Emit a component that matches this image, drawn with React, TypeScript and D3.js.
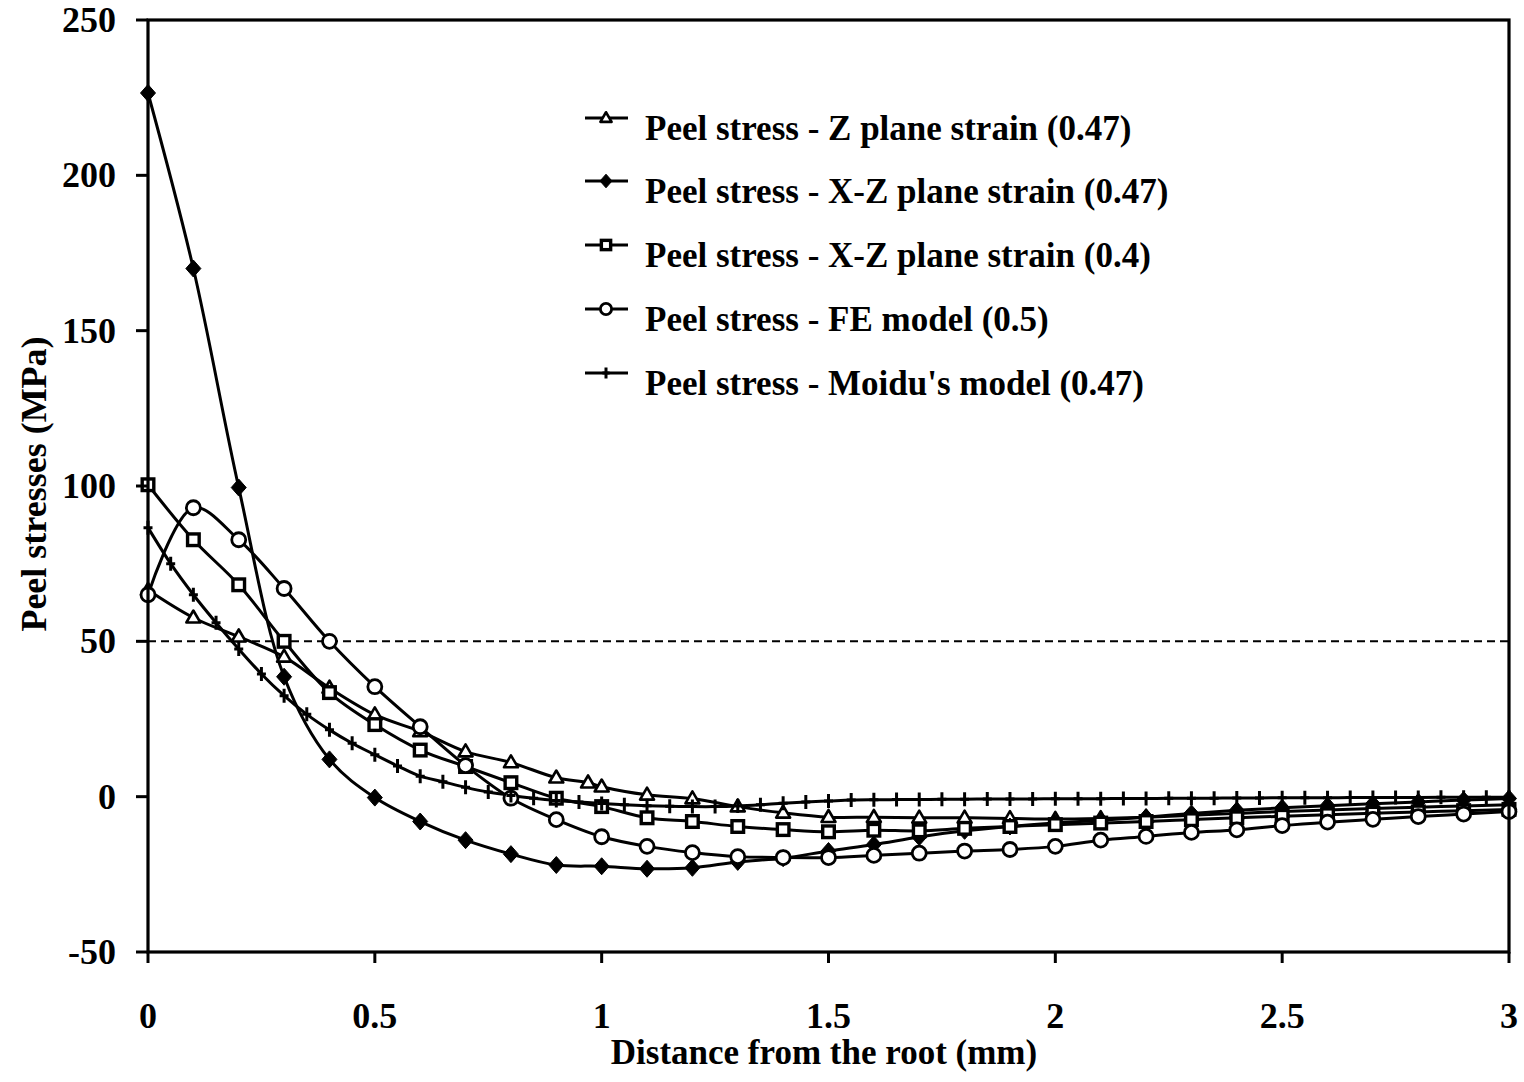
import React from "react";
import * as d3 from "d3";

// ---- Data ----
const triX = [0, 0.1, 0.2, 0.3, 0.4, 0.5, 0.6, 0.7, 0.8, 0.9, 0.97, 1.0, 1.1, 1.2, 1.3, 1.4, 1.5, 1.6, 1.7, 1.8, 1.9, 2.0, 2.1, 2.2, 2.3, 2.4, 2.5, 2.6, 2.7, 2.8, 2.9, 3.0];
const triY = [66.5, 57.6, 51.5, 45, 35, 26.4, 21, 14.5, 11, 6.1, 4.5, 3.2, 0.6, -0.6, -3.2, -5.2, -6.6, -6.6, -6.8, -6.8, -7, -7.2, -7, -6.6, -6, -5.4, -4.8, -4.3, -3.8, -3.4, -3, -2.6];

const diaX = [0, 0.1, 0.2, 0.3, 0.4, 0.5, 0.6, 0.7, 0.8, 0.9, 1.0, 1.1, 1.2, 1.3, 1.4, 1.5, 1.6, 1.7, 1.8, 1.9, 2.0, 2.1, 2.2, 2.3, 2.4, 2.5, 2.6, 2.7, 2.8, 2.9, 3.0];
const diaY = [226.5, 170, 99.5, 38.6, 12, -0.3, -8, -14, -18.5, -22, -22.4, -23.2, -22.9, -21, -19.8, -17.5, -15.4, -13, -11, -9.6, -8.5, -7.6, -6.6, -5.4, -4.4, -3.6, -2.9, -2.3, -1.7, -1.1, -0.6];

const sqX = [0, 0.1, 0.2, 0.3, 0.4, 0.5, 0.6, 0.7, 0.8, 0.9, 1.0, 1.1, 1.2, 1.3, 1.4, 1.5, 1.6, 1.7, 1.8, 1.9, 2.0, 2.1, 2.2, 2.3, 2.4, 2.5, 2.6, 2.7, 2.8, 2.9, 3.0];
const sqY = [100.4, 82.7, 68.2, 50, 33.5, 23.2, 15, 9.7, 4.5, -0.5, -3.2, -6.8, -8, -9.6, -10.6, -11.3, -10.8, -11, -10.2, -9.6, -9, -8.5, -8, -7.4, -6.8, -6.3, -5.8, -5.3, -4.9, -4.5, -4.1];

const cirX = [0, 0.1, 0.2, 0.3, 0.4, 0.5, 0.6, 0.7, 0.8, 0.9, 1.0, 1.1, 1.2, 1.3, 1.4, 1.5, 1.6, 1.7, 1.8, 1.9, 2.0, 2.1, 2.2, 2.3, 2.4, 2.5, 2.6, 2.7, 2.8, 2.9, 3.0];
const cirY = [65, 93, 82.7, 67, 50, 35.4, 22.5, 10, -0.5, -7.4, -12.9, -16, -18, -19.3, -19.6, -19.6, -18.9, -18.2, -17.5, -17, -16, -14, -12.8, -11.5, -10.7, -9.3, -8.2, -7.3, -6.4, -5.6, -4.8];

const moiX = [0, 0.05, 0.1, 0.15, 0.2, 0.25, 0.3, 0.35, 0.4, 0.45, 0.5, 0.55, 0.6, 0.65, 0.7, 0.75, 0.8, 0.85, 0.9, 0.95, 1.0, 1.05, 1.1, 1.15, 1.2, 1.25, 1.3, 1.35, 1.4, 1.45, 1.5, 1.55, 1.6, 1.65, 1.7, 1.75, 1.8, 1.85, 1.9, 1.95, 2.0, 2.05, 2.1, 2.15, 2.2, 2.25, 2.3, 2.35, 2.4, 2.45, 2.5, 2.55, 2.6, 2.65, 2.7, 2.75, 2.8, 2.85, 2.9, 2.95, 3.0];
const moiY = [86.6, 75, 65, 56, 47.5, 39.5, 32.5, 26.5, 21.5, 17.2, 13.5, 9.9, 6.6, 4.8, 3, 1.5, 0.4, -0.5, -1.2, -1.7, -2.2, -2.6, -2.9, -3.1, -3.2, -3.2, -3.0, -2.6, -2.1, -1.7, -1.4, -1.1, -1.0, -0.95, -0.9, -0.85, -0.8, -0.78, -0.75, -0.72, -0.7, -0.67, -0.64, -0.6, -0.57, -0.54, -0.5, -0.47, -0.44, -0.4, -0.38, -0.35, -0.32, -0.3, -0.28, -0.26, -0.24, -0.22, -0.2, -0.18, -0.15];

const xTicks = [0, 0.5, 1, 1.5, 2, 2.5, 3];
const xTickLabels = ["0", "0.5", "1", "1.5", "2", "2.5", "3"];
const yTicks = [-50, 0, 50, 100, 150, 200, 250];
const refLine = 50;

const seriesNames = [
  "Peel stress - Z plane strain (0.47)",
  "Peel stress - X-Z plane strain (0.47)",
  "Peel stress - X-Z plane strain (0.4)",
  "Peel stress - FE model (0.5)",
  "Peel stress - Moidu's model (0.47)",
];
const seriesMarkers = ["triangle", "diamond", "square", "circle", "plus"];

const FONT = "'Liberation Serif', 'Times New Roman', Times, serif";

function Marker({ type, x, y, small }: { type: string; x: number; y: number; small?: boolean }) {
  const s = small ? 0.8 : 1;
  if (type === "triangle") {
    const w = 7 * s, h = 12 * s;
    return <path d={`M${x},${y - h * 0.6}L${x + w},${y + h * 0.4}L${x - w},${y + h * 0.4}Z`} fill="#fff" stroke="#000" strokeWidth={2.6} strokeLinejoin="round" />;
  }
  if (type === "diamond") {
    const w = 7.5 * s, h = 8.5 * s;
    return <path d={`M${x},${y - h}L${x + w},${y}L${x},${y + h}L${x - w},${y}Z`} fill="#000" stroke="#000" strokeWidth={1} />;
  }
  if (type === "square") {
    const a = 5.8 * s;
    return <rect x={x - a} y={y - a} width={2 * a} height={2 * a} fill="#fff" stroke="#000" strokeWidth={3.4} />;
  }
  if (type === "circle") {
    return <circle cx={x} cy={y} r={7 * s} fill="#fff" stroke="#000" strokeWidth={2.8} />;
  }
  const hw = 4.5 * s, hh = 7 * s;
  return <path d={`M${x - hw},${y}H${x + hw}M${x},${y - hh}V${y + hh}`} stroke="#000" strokeWidth={3} fill="none" />;
}

export default function App() {
  const W = 1524, H = 1082;
  const left = 148, right = 1509, top = 20, bottom = 952;
  const x = d3.scaleLinear().domain([0, 3]).range([left, right]);
  const y = d3.scaleLinear().domain([-50, 250]).range([bottom, top]);

  const series = [
    { xs: triX, ys: triY },
    { xs: diaX, ys: diaY },
    { xs: sqX, ys: sqY },
    { xs: cirX, ys: cirY },
    { xs: moiX, ys: moiY },
  ];

  const line = d3
    .line<[number, number]>()
    .x((d) => x(d[0]))
    .y((d) => y(d[1]))
    .curve(d3.curveCatmullRom.alpha(0.5));

  const legendBase = [140, 203, 267, 331, 395];

  return (
    <svg width={W} height={H} style={{ position: "absolute", left: 0, top: 0 }} fontFamily={FONT}>
      <rect x={0} y={0} width={W} height={H} fill="#fff" />

      {/* reference dashed line */}
      <line x1={left} x2={right} y1={y(refLine)} y2={y(refLine)} stroke="#000" strokeWidth={2} strokeDasharray="8 5" />

      {/* series lines */}
      {series.map((s, i) => {
        const pts = s.xs.map((v, j) => [v, s.ys[j]] as [number, number]);
        return <path key={"l" + i} d={line(pts) || ""} fill="none" stroke="#000" strokeWidth={3} />;
      })}
      {/* markers */}
      {series.map((s, i) => (
        <g key={"m" + i}>
          {s.xs.map((v, j) => (
            <Marker key={j} type={seriesMarkers[i]} x={x(v)} y={y(s.ys[j])} />
          ))}
        </g>
      ))}

      {/* frame */}
      <rect x={left} y={top} width={right - left} height={bottom - top} fill="none" stroke="#000" strokeWidth={3.2} />

      {/* y ticks and labels */}
      {yTicks.map((t) => (
        <g key={"y" + t}>
          <line x1={left - 12} x2={left} y1={y(t)} y2={y(t)} stroke="#000" strokeWidth={3} />
          <text x={116} y={y(t) + 12} textAnchor="end" fontSize={36} fontWeight="bold">
            {String(t)}
          </text>
        </g>
      ))}

      {/* x ticks and labels */}
      {xTicks.map((t, i) => (
        <g key={"x" + t}>
          <line x1={x(t)} x2={x(t)} y1={bottom} y2={bottom + 11} stroke="#000" strokeWidth={3} />
          <text x={x(t)} y={1028} textAnchor="middle" fontSize={36} fontWeight="bold">
            {xTickLabels[i]}
          </text>
        </g>
      ))}

      {/* axis titles */}
      <text x={824} y={1064} textAnchor="middle" fontSize={35} fontWeight="bold">
        Distance from the root (mm)
      </text>
      <text transform={`translate(46,484) rotate(-90)`} textAnchor="middle" fontSize={36} fontWeight="bold">
        Peel stresses (MPa)
      </text>

      {/* legend */}
      {seriesNames.map((n, i) => {
        const ly = legendBase[i] - 22;
        return (
          <g key={"lg" + i}>
            <line x1={585} x2={628} y1={ly} y2={ly} stroke="#000" strokeWidth={3} />
            <Marker type={seriesMarkers[i]} x={606} y={ly} small />
            <text x={645} y={legendBase[i]} fontSize={35} fontWeight="bold">
              {n}
            </text>
          </g>
        );
      })}
    </svg>
  );
}
